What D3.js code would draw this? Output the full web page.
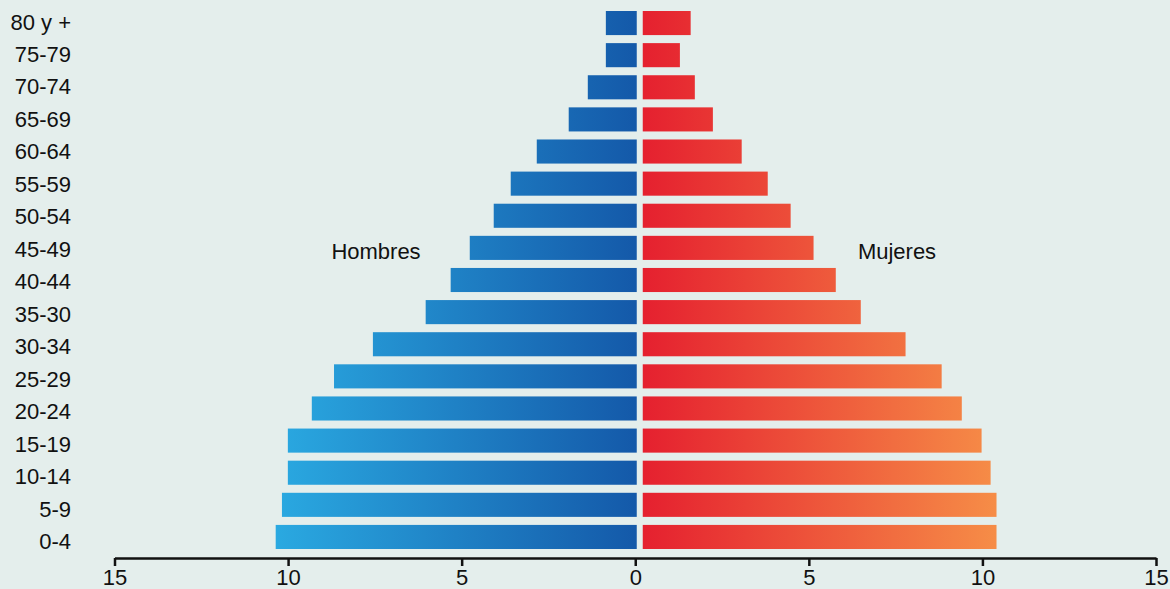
<!DOCTYPE html>
<html>
<head>
<meta charset="utf-8">
<script src="https://cdn.jsdelivr.net/npm/d3@7"></script>
<style>
  body { margin: 0; background: #e4eeec; }
  svg { display: block; font-family: "Liberation Sans", Arial, Helvetica, sans-serif; }
</style>
</head>
<body>
<div id="pyramid"></div>
<script>
// age groups, top to bottom
var grupos = ["80 y +", "75-79", "70-74", "65-69", "60-64", "55-59", "50-54", "45-49",
              "40-44", "35-30", "30-34", "25-29", "20-24", "15-19", "10-14", "5-9", "0-4"];
// percent of population
var hombres = [0.89, 0.89, 1.41, 1.96, 2.88, 3.63, 4.12, 4.81,
               5.36, 6.08, 7.6, 8.72, 9.36, 10.05, 10.05, 10.22, 10.4];
var mujeres = [1.38, 1.07, 1.5, 2.02, 2.85, 3.6, 4.26, 4.92,
               5.56, 6.28, 7.57, 8.61, 9.19, 9.76, 10.02, 10.19, 10.19];
var ticks = [-15, -10, -5, 0, 5, 10, 15];

var width = 1170, height = 589;

var svg = d3.select("#pyramid").append("svg")
    .attr("width", width)
    .attr("height", height);

// set the ranges
var x = d3.scaleLinear().domain([-15, 15]).range([114.5, 1156]);
var y = d3.scaleBand()
    .domain(grupos)
    .range([11, 549])
    .paddingInner(0.25)
    .paddingOuter(0);
// labels sit on a slightly wider pitch than the bars
var yLab = d3.scalePoint().domain(grupos).range([29.5, 549]);

// small gap between the two sides
var offL = 1.5, offR = 7.5;

// gradients
var defs = svg.append("defs");
var gl = defs.append("linearGradient").attr("id", "gradH")
    .attr("gradientUnits", "userSpaceOnUse")
    .attr("x1", x(-10.4) + offL).attr("x2", x(0) + offL).attr("y1", 0).attr("y2", 0);
gl.append("stop").attr("offset", "0%").attr("stop-color", "#2aa9e1");
gl.append("stop").attr("offset", "100%").attr("stop-color", "#1459a9");
var gr = defs.append("linearGradient").attr("id", "gradM")
    .attr("gradientUnits", "userSpaceOnUse")
    .attr("x1", x(0) + offR).attr("x2", x(10.19) + offR).attr("y1", 0).attr("y2", 0);
gr.append("stop").attr("offset", "0%").attr("stop-color", "#e5202f");
gr.append("stop").attr("offset", "100%").attr("stop-color", "#f68d47");

// left bars (men)
svg.selectAll(".barH")
    .data(grupos)
  .enter().append("rect")
    .attr("class", "barH")
    .attr("x", function(d, i) { return x(-hombres[i]) + offL; })
    .attr("y", function(d) { return y(d); })
    .attr("width", function(d, i) { return x(0) - x(-hombres[i]); })
    .attr("height", y.bandwidth())
    .style("fill", "url(#gradH)");

// right bars (women)
svg.selectAll(".barM")
    .data(grupos)
  .enter().append("rect")
    .attr("class", "barM")
    .attr("x", x(0) + offR)
    .attr("y", function(d) { return y(d); })
    .attr("width", function(d, i) { return x(mujeres[i]) - x(0); })
    .attr("height", y.bandwidth())
    .style("fill", "url(#gradM)");

// age labels
svg.selectAll(".label")
    .data(grupos)
  .enter().append("text")
    .attr("class", "label")
    .attr("x", 71)
    .attr("y", function(d) { return yLab(d); })
    .attr("text-anchor", "end")
    .style("font-size", "22px")
    .style("fill", "#111")
    .text(function(d) { return d; });

// x axis
var axis = svg.append("g")
    .attr("transform", "translate(0,558)")
    .call(d3.axisBottom(x)
            .tickValues(ticks)
            .tickSize(8)
            .tickSizeOuter(0)
            .tickPadding(3)
            .tickFormat(function(d) { return Math.abs(d); }));
axis.select(".domain").attr("stroke", "#111").attr("stroke-width", 2.5);
axis.selectAll(".tick line").attr("stroke", "#111").attr("stroke-width", 2.5);
axis.selectAll(".tick text")
    .style("font-size", "22px")
    .style("font-family", "'Liberation Sans', Arial, sans-serif")
    .attr("fill", "#111");

// series labels
svg.append("text")
    .attr("x", 376)
    .attr("y", 259)
    .attr("text-anchor", "middle")
    .style("font-size", "22px")
    .style("fill", "#111")
    .text("Hombres");
svg.append("text")
    .attr("x", 897)
    .attr("y", 259)
    .attr("text-anchor", "middle")
    .style("font-size", "22px")
    .style("fill", "#111")
    .text("Mujeres");
</script>
</body>
</html>
